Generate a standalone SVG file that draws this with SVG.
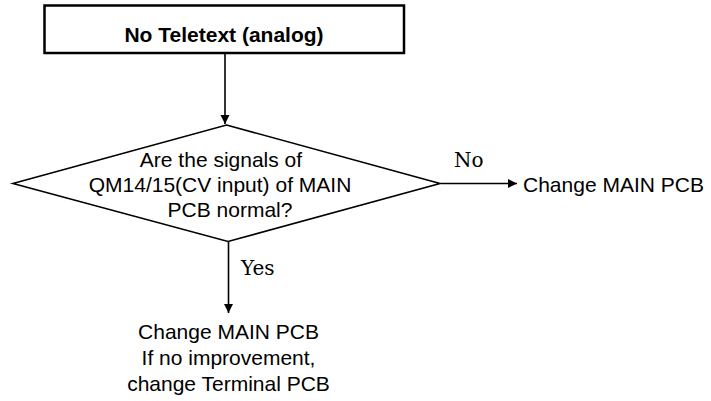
<svg xmlns="http://www.w3.org/2000/svg" width="711" height="401" viewBox="0 0 711 401">
<style>
.t{font-family:"Liberation Sans",Arial,sans-serif;font-size:21px;fill:#000;text-anchor:middle}
.b{font-weight:bold}
.s{font-family:"DejaVu Serif","Liberation Serif",serif;font-size:20px;fill:#000}
.box{fill:#fff;stroke:#000;stroke-width:2.5}
.dia{fill:#fff;stroke:#000;stroke-width:1.6}
.c{stroke:#000;stroke-width:1.6;fill:none}
</style>
<defs>
<marker id="ah" markerWidth="10" markerHeight="10" refX="9" refY="5" orient="auto" markerUnits="userSpaceOnUse">
<path d="M0,0.5 L9,5 L0,9.5 Z" fill="#000"/>
</marker>
</defs>
<g id="connectors">
<line class="c" x1="225" y1="53" x2="225" y2="124" marker-end="url(#ah)"/>
<line class="c" x1="441" y1="183.5" x2="517" y2="183.5" marker-end="url(#ah)"/>
<line class="c" x1="228.5" y1="241" x2="228.5" y2="313" marker-end="url(#ah)"/>
<text class="s" x="454" y="167">No</text>
<text class="s" x="241" y="275">Yes</text>
</g>
<g id="start">
<rect class="box" x="44.5" y="5.5" width="359.5" height="47.5"/>
<text class="t b" x="224" y="41.5">No Teletext (analog)</text>
</g>
<g id="decision">
<polygon class="dia" points="226.5,125 440,183.5 228,241.5 13,183.5"/>
<text class="t" x="221" y="167">Are the signals of</text>
<text class="t" x="220" y="192">QM14/15(CV input) of MAIN</text>
<text class="t" x="230" y="217">PCB normal?</text>
</g>
<g id="no-result">
<text class="t" x="523" y="192" style="text-anchor:start">Change MAIN PCB</text>
</g>
<g id="yes-result">
<text class="t" x="228.5" y="339">Change MAIN PCB</text>
<text class="t" x="228.5" y="365">If no improvement,</text>
<text class="t" x="228.5" y="391">change Terminal PCB</text>
</g>
</svg>
